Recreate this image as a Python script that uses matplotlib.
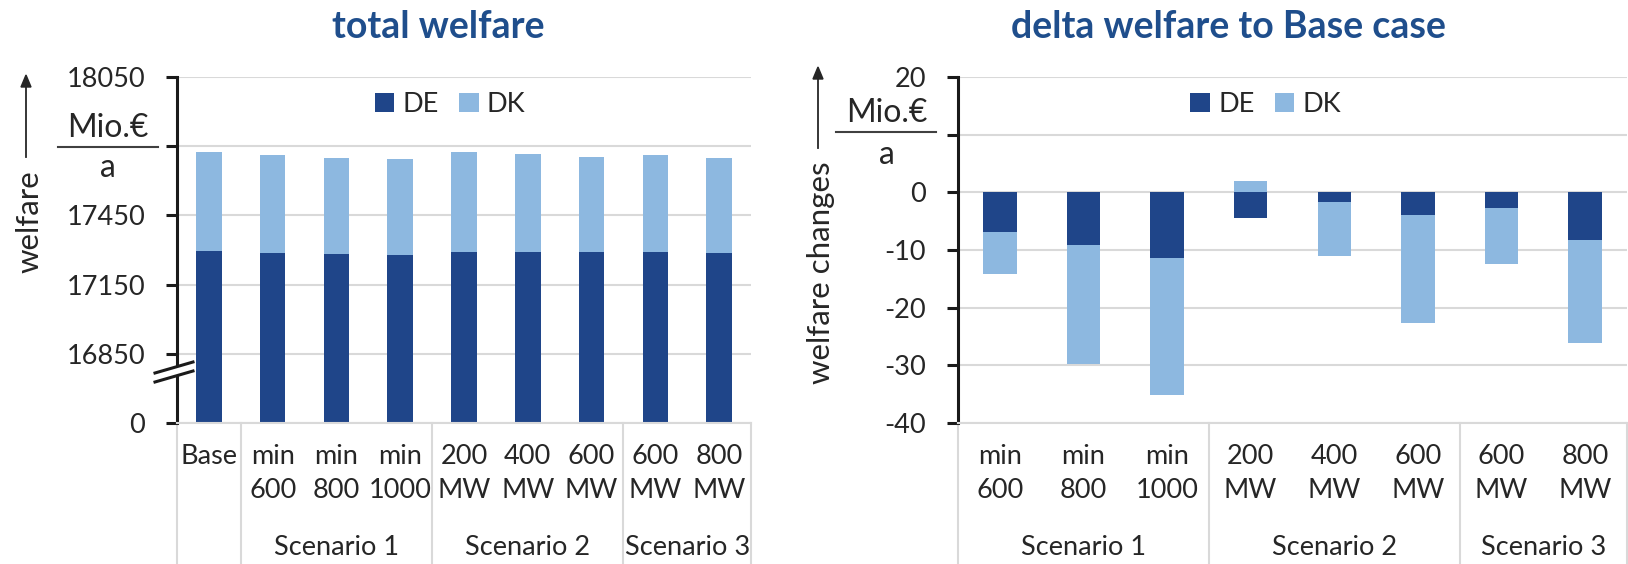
import matplotlib
matplotlib.use("Agg")
import matplotlib.pyplot as plt
from matplotlib.lines import Line2D
from matplotlib.patches import Polygon
import numpy as np

plt.rcParams['font.family'] = ['Lato', 'DejaVu Sans']

# --- data -------------------------------------------------------------
labels_left = ['Base', 'min\n600', 'min\n800', 'min\n1000', '200\nMW', '400\nMW', '600\nMW', '600\nMW', '800\nMW']
labels_right = labels_left[1:]
groups = ['Scenario 1', 'Scenario 2', 'Scenario 3']

# total welfare, Mio.EUR/a
de_total = np.array([17294, 17288, 17283, 17280, 17290, 17293, 17290, 17292, 17288])
dk_total = np.array([432, 424, 414, 413, 434, 422, 415, 421, 412])

# delta welfare to Base case, Mio.EUR/a
de_delta = np.array([-6.9, -9.1, -11.4, -4.5, -1.7, -3.9, -2.7, -8.2])
dk_delta = np.array([-7.3, -20.7, -23.7, 1.9, -9.4, -18.8, -9.7, -18.0])

# --- style ------------------------------------------------------------
C_DE = '#1f4589'
C_DK = '#8db8e0'
C_TITLE = '#1f4e8c'
C_TXT = '#262626'
C_GRID = '#d9d9d9'
FS = 19.5

W, H = 1628, 564
fig = plt.figure(figsize=(W / 100, H / 100), dpi=100)


def fx(x):
    return x / W


def fy(y):
    return 1 - y / H


def setup_axis(ax, ticks, ticklabels, ylim, n):
    ax.set_ylim(*ylim)
    ax.set_xlim(-0.5, n - 0.5)
    ax.set_yticks(ticks)
    ax.set_yticklabels(ticklabels)
    ax.set_xticks([])
    ax.grid(axis='y', color=C_GRID, lw=1.5)
    ax.set_axisbelow(True)
    for s in ['top', 'right']:
        ax.spines[s].set_visible(False)
    ax.spines['bottom'].set_color(C_GRID)
    ax.spines['bottom'].set_linewidth(1.5)
    ax.spines['left'].set_linewidth(2.2)
    ax.spines['left'].set_color('#1a1a1a')
    ax.tick_params(axis='y', length=8, width=2.2, pad=15, labelsize=FS,
                   labelcolor=C_TXT, color='#1a1a1a')


def xlabels(ax, labels, seps, group_pos, depth=0.41):
    tr = ax.get_xaxis_transform()
    for i, lab in enumerate(labels):
        ax.text(i, -0.062, lab, transform=tr, ha='center', va='top',
                fontsize=FS, color=C_TXT, linespacing=1.42)
    for s in seps:
        ax.plot([s, s], [0, -depth], transform=tr, color=C_GRID, lw=1.5, clip_on=False)
    for g, p in zip(groups, group_pos):
        ax.text(p, -0.36, g, transform=tr, ha='center', va='center',
                fontsize=FS, color=C_TXT)


def unit_label(xc, y_mio, y_line, x0, x1, y_a, x_arrow, y_arrow0, y_arrow1, text, x_text, y_text):
    fig.text(fx(xc), fy(y_mio), 'Mio.€', ha='center', va='center', fontsize=23, color=C_TXT)
    fig.add_artist(Line2D([fx(x0), fx(x1)], [fy(y_line), fy(y_line)], color='#404040', lw=1.5))
    fig.text(fx(xc), fy(y_a), 'a', ha='center', va='center', fontsize=23, color=C_TXT)
    fig.text(fx(x_text), fy(y_text), text, ha='center', va='center', rotation=90,
             fontsize=22.5, color=C_TXT)
    fig.add_artist(Line2D([fx(x_arrow), fx(x_arrow)], [fy(y_arrow0), fy(y_arrow1 + 8)],
                          color='#262626', lw=1.3))
    fig.add_artist(Polygon([[fx(x_arrow - 5), fy(y_arrow1 + 12)],
                            [fx(x_arrow + 5), fy(y_arrow1 + 12)],
                            [fx(x_arrow), fy(y_arrow1)]], closed=True,
                           color='#262626', transform=fig.transFigure))


# --- left: total welfare (broken axis, 0 drawn one step below 16850) ---
BREAK_BASE = 16550
axl = fig.add_axes([fx(177), fy(423), fx(751 - 177), (423 - 77) / H])
x = np.arange(len(labels_left))
axl.bar(x, de_total - BREAK_BASE, bottom=BREAK_BASE, width=0.4, color=C_DE, label='DE')
axl.bar(x, dk_total, bottom=de_total, width=0.4, color=C_DK, label='DK')
setup_axis(axl, [16550, 16850, 17150, 17450, 17750, 18050],
           ['0', '16850', '17150', '17450', '', '18050'], (16550, 18050), len(labels_left))
xlabels(axl, labels_left, [-0.5, 0.5, 3.5, 6.5, 8.5], [2, 5, 7.5])
axl.legend(loc='center', bbox_to_anchor=(0.476, 0.92), ncol=2, frameon=False,
           fontsize=FS, handlelength=0.72, handleheight=0.72, handletextpad=0.3,
           columnspacing=0.75, labelcolor=C_TXT)
axl.set_title('total welfare', fontsize=27, fontweight='bold', color=C_TITLE, pad=0,
              x=(438 - 177) / (751 - 177), y=(423 - 27) / 346, va='center')

# axis break marks
fig.add_artist(Polygon([[fx(155), fy(373)], [fx(193), fy(362)], [fx(193), fy(370)], [fx(155), fy(382)]],
                       closed=True, color='white', transform=fig.transFigure))
for dy in (0, 9):
    fig.add_artist(Line2D([fx(155), fx(193)], [fy(373 + dy), fy(362 + dy)], color='#1a1a1a', lw=2.2))

unit_label(108, 128, 147, 58, 158, 168, 26, 157, 75, 'welfare', 29, 222)

# --- right: delta welfare ----------------------------------------------
axr = fig.add_axes([fx(958), fy(423), fx(1627 - 958), (423 - 77) / H])
xr = np.arange(len(labels_right))
axr.bar(xr, de_delta, width=0.4, color=C_DE, label='DE')
dk_bottom = np.where(dk_delta < 0, de_delta, 0)
axr.bar(xr, dk_delta, bottom=dk_bottom, width=0.4, color=C_DK, label='DK')
setup_axis(axr, [-40, -30, -20, -10, 0, 10, 20],
           ['-40', '-30', '-20', '-10', '0', '', '20'], (-40, 20), len(labels_right))
xlabels(axr, labels_right, [-0.5, 2.5, 5.5, 7.5], [1, 4, 6.5])
axr.legend(loc='center', bbox_to_anchor=(0.46, 0.92), ncol=2, frameon=False,
           fontsize=FS, handlelength=0.72, handleheight=0.72, handletextpad=0.3,
           columnspacing=0.75, labelcolor=C_TXT)
axr.set_title('delta welfare to Base case', fontsize=27, fontweight='bold', color=C_TITLE, pad=0,
              x=(1228 - 958) / (1627 - 958), y=(423 - 27) / 346, va='center')

unit_label(887, 113, 132, 836, 936, 155, 818, 148, 67, 'welfare changes', 821, 273)

fig.savefig('out.png', dpi=100)
